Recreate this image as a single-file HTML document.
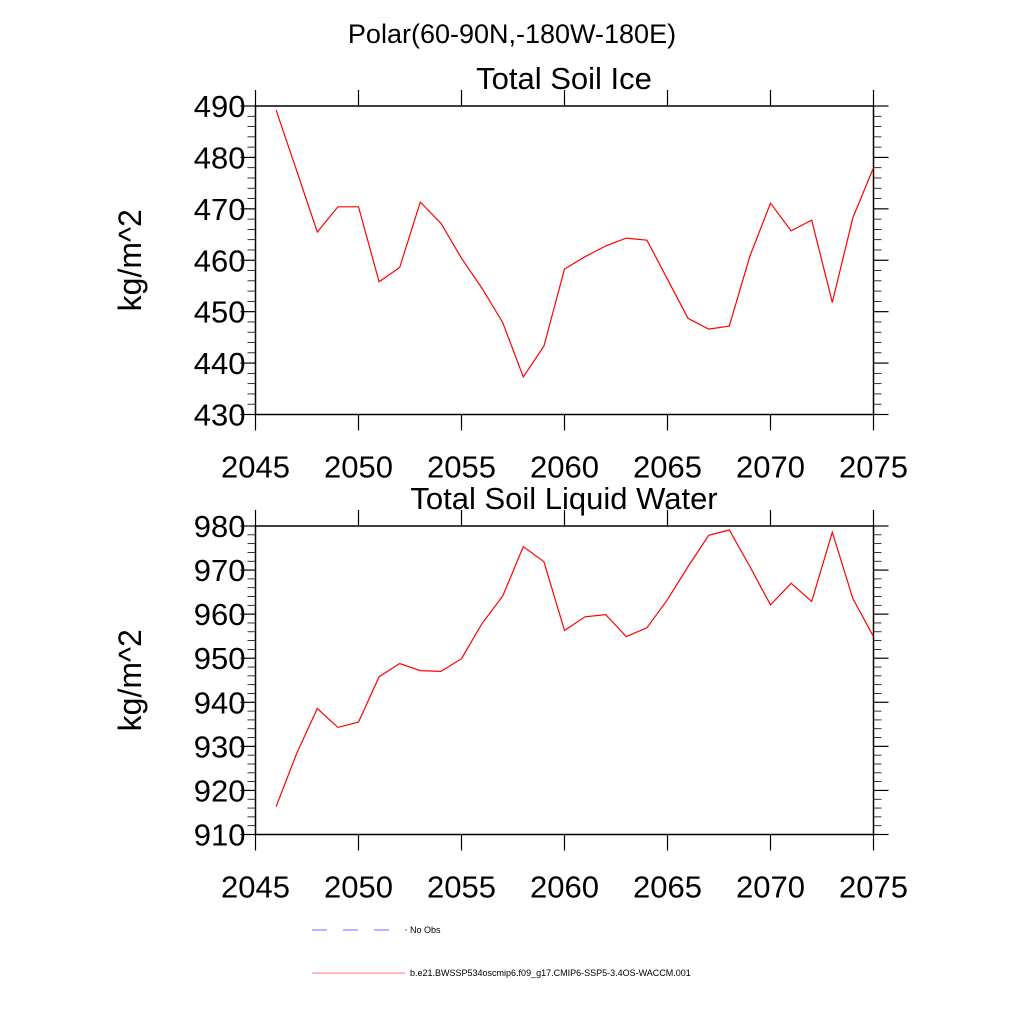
<!DOCTYPE html>
<html><head><meta charset="utf-8"><style>
html,body{margin:0;padding:0;background:#fff;}
svg{display:block;font-family:"Liberation Sans",Arial,sans-serif;}
</style></head><body>
<svg id="chart" width="1024" height="1024" viewBox="0 0 1024 1024">
<text x="512" y="43" font-size="27" text-anchor="middle">Polar(60-90N,-180W-180E)</text>
<g id="p1"></g>
<g id="p2"></g>
<g>
<line x1="312" y1="930" x2="407" y2="930" stroke="#6b6bff" stroke-width="1" stroke-dasharray="15,16"/>
<text x="410" y="933" font-size="9">No Obs</text>
<line x1="312" y1="973" x2="405" y2="973" stroke="#ff7070" stroke-width="1"/>
<text x="410" y="976" font-size="9">b.e21.BWSSP534oscmip6.f09_g17.CMIP6-SSP5-3.4OS-WACCM.001</text>
</g>
</svg>
<script>
const years = [2046,2047,2048,2049,2050,2051,2052,2053,2054,2055,2056,2057,2058,2059,2060,2061,2062,2063,2064,2065,2066,2067,2068,2069,2070,2071,2072,2073,2074,2075];
const iceValues = [489.2,477.4,465.5,470.4,470.4,455.8,458.6,471.3,467.2,460.4,454.5,447.9,437.3,443.3,458.3,460.7,462.8,464.3,463.9,456.3,448.7,446.6,447.2,460.8,471.1,465.7,467.8,451.8,468.3,478.0];
const waterValues = [916.3,928.4,938.6,934.3,935.5,945.8,948.8,947.2,947.0,949.9,957.9,964.1,975.3,971.9,956.3,959.4,959.9,954.9,956.9,963.3,970.8,977.9,979.1,970.8,962.1,967.0,962.9,978.6,963.5,954.9];
const xTicks = [2045,2050,2055,2060,2065,2070,2075];
const iceTicks = [430,440,450,460,470,480,490];
const waterTicks = [910,920,930,940,950,960,970,980];
const NS = "http://www.w3.org/2000/svg";
function mk(tag, attrs, parent){const e=document.createElementNS(NS,tag);for(const k in attrs)e.setAttribute(k,attrs[k]);parent.appendChild(e);return e;}
function panel(g, top, bottom, ymin, ymax, yt, vals, title, key){
  const L=255.5, R=873.5, xmin=2045, xmax=2075;
  const xs=v=>L+(v-xmin)/(xmax-xmin)*(R-L);
  const ys=v=>bottom-(v-ymin)/(ymax-ymin)*(bottom-top);
  const t=mk('text',{x:564,y:top-17,'font-size':31,'text-anchor':'middle'},g);t.textContent=title;
  
  
  const box=mk('rect',{x:L,y:top,width:R-L,height:bottom-top,fill:'none',stroke:'#000','stroke-width':1.5},g);
  
  
  for(let v=ymin; v<=ymax+0.001; v+=2){
    const y=ys(v), major=Math.abs((v-ymin)%10)<0.01;
    const len=major?15:8;
    const a=mk('line',{x1:L-len,y1:y,x2:L,y2:y,stroke:'#000','stroke-width':major?1.2:0.8},g);
    
    
    const b=mk('line',{x1:R,y1:y,x2:R+len,y2:y,stroke:'#000','stroke-width':major?1.2:0.8},g);
    
    
  }
  yt.forEach(v=>{
    const tx=mk('text',{x:L-10,y:ys(v)+11,'font-size':31,'text-anchor':'end'},g);tx.textContent=v;
    
    
  });
  xTicks.forEach(v=>{
    const x=xs(v);
    const a=mk('line',{x1:x,y1:top-16,x2:x,y2:top,stroke:'#000','stroke-width':1.2},g);
    
    
    const b=mk('line',{x1:x,y1:bottom,x2:x,y2:bottom+16,stroke:'#000','stroke-width':1.2},g);
    
    
    const tx=mk('text',{x:x,y:bottom+63,'font-size':31,'text-anchor':'middle'},g);tx.textContent=v;
    
    
  });
  const cy=(top+bottom)/2;
  const yl=mk('text',{x:141,y:cy,'font-size':32,'text-anchor':'middle',transform:`rotate(-90 141 ${cy})`},g);yl.textContent='kg/m^2';
  
  
  const pts=years.map((yr,i)=>xs(yr).toFixed(1)+','+ys(vals[i]).toFixed(1)).join(' ');
  const pl=mk('polyline',{points:pts,fill:'none',stroke:'#ff0000','stroke-width':1.2},g);
  
  
}
panel(document.getElementById('p1'),106,414.5,430,490,iceTicks,iceValues,'Total Soil Ice','ice');
panel(document.getElementById('p2'),526,834.5,910,980,waterTicks,waterValues,'Total Soil Liquid Water','water');
</script>
</body></html>
